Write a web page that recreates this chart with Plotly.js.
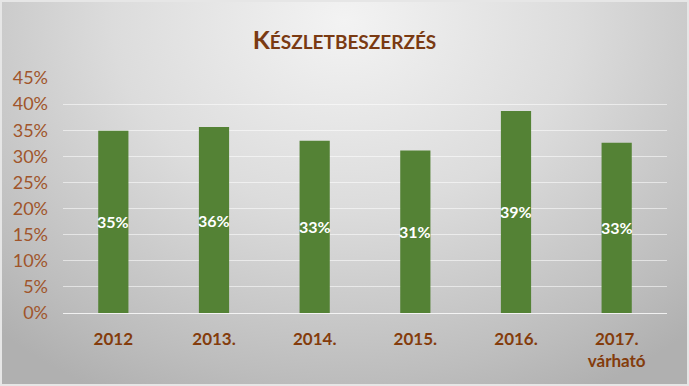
<!DOCTYPE html>
<html>
<head>
<meta charset="utf-8">
<script src="https://cdn.plot.ly/plotly-3.0.1.min.js"></script>
<style>
  html, body { margin: 0; padding: 0; background: #ffffff; }
  #wrap {
    position: absolute; left: 0; top: 0; width: 689px; height: 386px;
    box-sizing: border-box;
    border: 2px solid #e6e6e6;
    background: radial-gradient(ellipse 75% 110% at 50% 5%, #f3f3f3 0%, #dcdcdc 45%, #bdbdbd 85%, #b0b0b0 100%);
  }
  #chart { position: absolute; left: -2px; top: -2px; width: 689px; height: 386px; }
</style>
</head>
<body>
<div id="wrap"><div id="chart"></div></div>
<script>
const categories = ["2012", "2013.", "2014.", "2015.", "2016.", "2017.<br>várható"];
const values = [0.349, 0.356, 0.330, 0.311, 0.387, 0.326];
const yTickValues = [0, 0.05, 0.10, 0.15, 0.20, 0.25, 0.30, 0.35, 0.40, 0.45];

const labelFont = { family: "Lato, 'Open Sans', sans-serif", size: 16, color: "#ffffff", weight: "bold" };

const trace = {
  type: "bar",
  x: categories,
  y: values,
  marker: { color: "#548235" },
  textposition: "none",
  hoverinfo: "none"
};

const annotations = categories.map((c, i) => ({
  x: i,
  y: values[i] / 2,
  xref: "x", yref: "y",
  text: "<b>" + Math.round(values[i] * 100) + "%</b>",
  showarrow: false,
  font: labelFont,
  xanchor: "center", yanchor: "middle"
}));

const layout = {
  width: 689, height: 386,
  paper_bgcolor: "rgba(0,0,0,0)",
  plot_bgcolor: "rgba(0,0,0,0)",
  margin: { l: 63, r: 22, t: 78, b: 73 },
  bargap: 0.7,
  showlegend: false,
  annotations: annotations,
  title: {
    text: "<b>K<span style='font-size:19px'>ÉSZLETBESZERZÉS</span></b>",
    font: { family: "Lato, 'Open Sans', sans-serif", size: 25, color: "#7a3a12" },
    x: 0.5, xanchor: "center",
    y: 1 - 40 / 386, yref: "container", yanchor: "middle"
  },
  xaxis: {
    type: "category",
    range: [-0.5, categories.length - 0.5],
    showgrid: false,
    showline: false,
    zeroline: false,
    ticks: "",
    ticklabelstandoff: 14,
    tickfont: { family: "Lato, 'Open Sans', sans-serif", size: 17, color: "#843c0c", weight: "bold" },
    fixedrange: true
  },
  yaxis: {
    range: [0, 0.45],
    tickvals: yTickValues,
    tickformat: ".0%",
    showgrid: true,
    gridcolor: "rgba(255,255,255,0.55)",
    gridwidth: 1,
    zeroline: true,
    zerolinecolor: "rgba(255,255,255,0.8)",
    zerolinewidth: 1,
    showline: false,
    ticks: "",
    ticklabelstandoff: 14,
    tickfont: { family: "Lato, 'Open Sans', sans-serif", size: 18, color: "#a0552b" },
    fixedrange: true
  }
};

Plotly.newPlot("chart", [trace], layout, { displayModeBar: false, staticPlot: true });
</script>
</body>
</html>
